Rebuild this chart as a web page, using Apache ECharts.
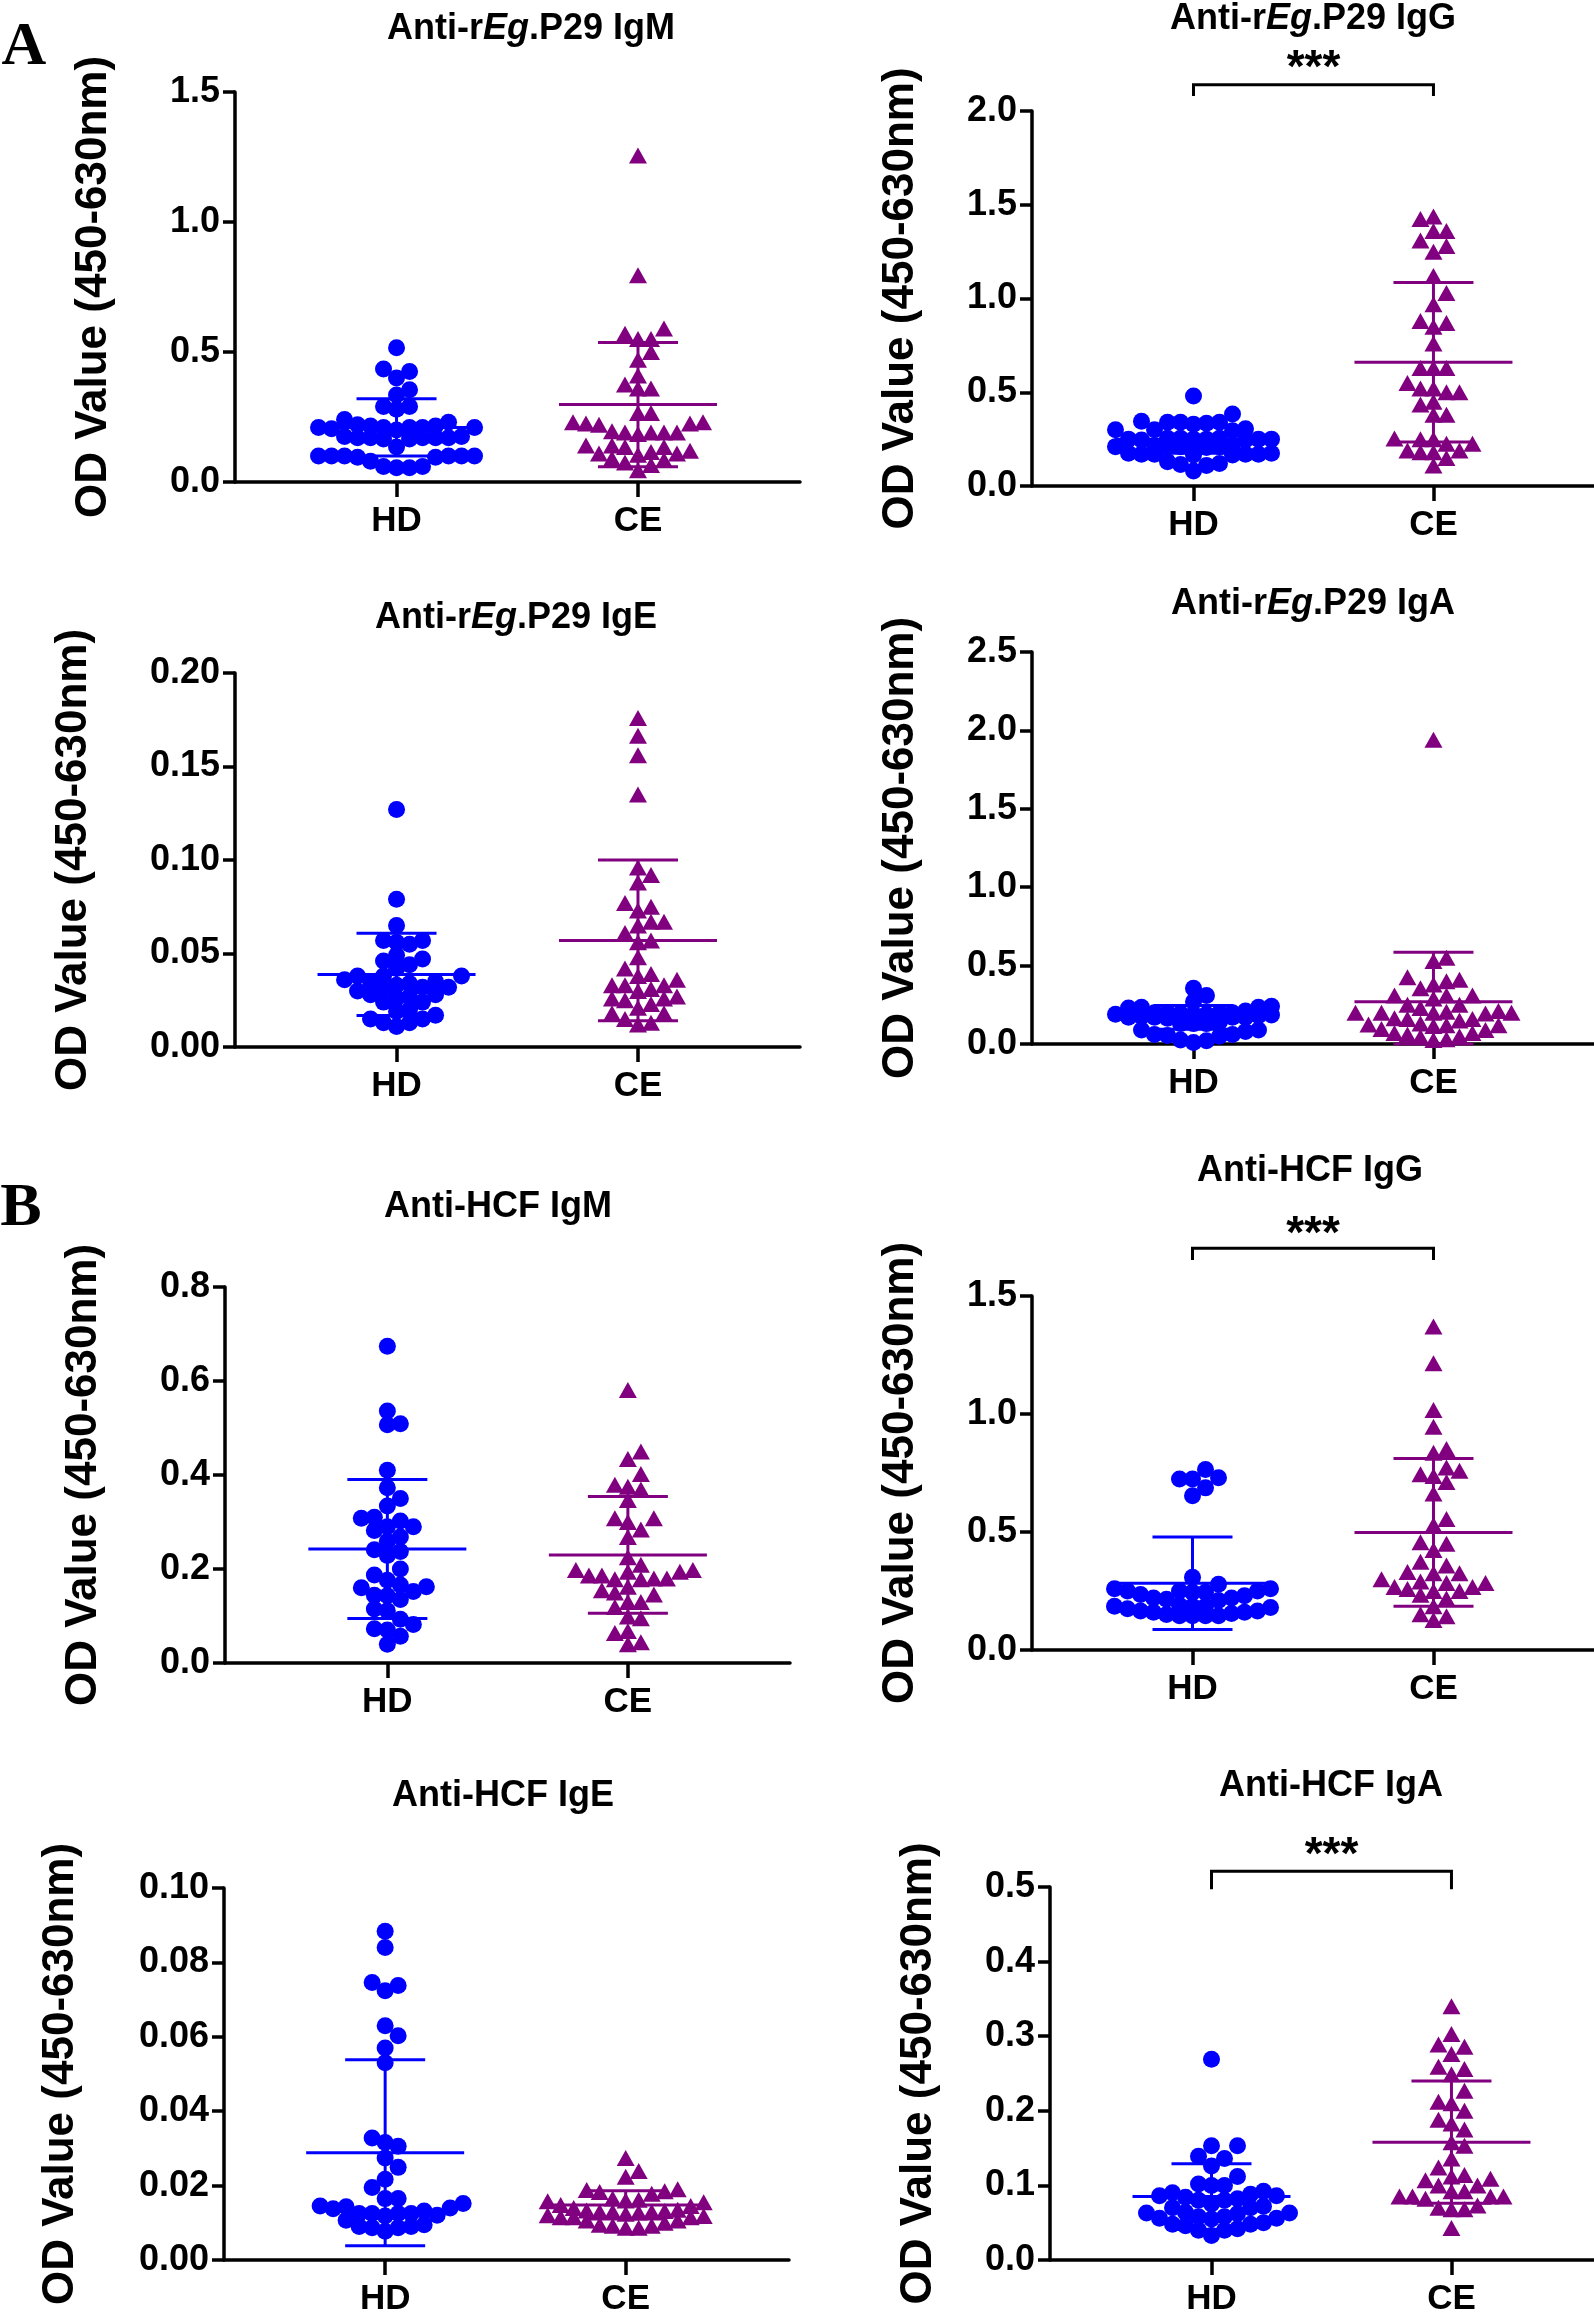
<!DOCTYPE html>
<html>
<head>
<meta charset="utf-8">
<title>OD values</title>
<script src="https://cdn.jsdelivr.net/npm/echarts@6/dist/echarts.min.js"></script>
<style>
html, body { margin: 0; padding: 0; background: #fff; }
#main { width: 1594px; height: 2317px; }
</style>
</head>
<body>
<div id="main"></div>
<script>
// 数据
var groups = ['HD', 'CE'];

var p29_igm_hd = [0.516, 0.435, 0.425, 0.40, 0.355, 0.335, 0.29, 0.29, 0.28, 0.24, 0.23,
    0.22, 0.215, 0.21, 0.21, 0.205, 0.21, 0.2, 0.21, 0.215, 0.21,
    0.175, 0.17, 0.17, 0.165, 0.17, 0.17, 0.175, 0.17, 0.165, 0.135,
    0.1, 0.1, 0.095, 0.1, 0.1, 0.1, 0.095, 0.1, 0.08, 0.06, 0.06, 0.055, 0.055];
var p29_igm_ce = [1.256, 0.795, 0.59, 0.57, 0.55, 0.55, 0.50, 0.47, 0.41, 0.375, 0.36, 0.36, 0.265, 0.265,
    0.23, 0.225, 0.22, 0.225, 0.23, 0.19, 0.195, 0.19, 0.19, 0.19, 0.185, 0.14, 0.135, 0.135, 0.14,
    0.11, 0.115, 0.11, 0.105, 0.12, 0.075, 0.085, 0.09, 0.065, 0.045];
var p29_igm_mean = [0.21, 0.298];
var p29_igm_sd = [0.11, 0.239];

var p29_igg_hd = [0.48, 0.384, 0.34, 0.34, 0.345, 0.34, 0.335, 0.33, 0.30, 0.305, 0.30, 0.295,
    0.255, 0.25, 0.25, 0.245, 0.255, 0.25, 0.25, 0.245, 0.25, 0.255,
    0.21, 0.215, 0.21, 0.205, 0.21, 0.215, 0.21, 0.21,
    0.17, 0.175, 0.17, 0.165, 0.17, 0.175, 0.17, 0.165, 0.115, 0.13, 0.11, 0.12, 0.08];
var p29_igg_ce = [1.437, 1.424, 1.36, 1.36, 1.31, 1.25, 1.28, 1.12, 1.03, 0.97, 0.85, 0.88, 0.87, 0.76,
    0.63, 0.63, 0.63, 0.55, 0.52, 0.50, 0.52, 0.50, 0.45, 0.435, 0.38, 0.38,
    0.254, 0.25, 0.225, 0.25, 0.19, 0.19, 0.18, 0.18, 0.225, 0.15, 0.11];
var p29_igg_mean = [0.25, 0.66];
var p29_igg_sd = [0.075, 0.425];

var p29_ige_hd = [0.127, 0.079, 0.065, 0.057, 0.055, 0.057, 0.056, 0.049, 0.047, 0.046, 0.042, 0.044,
    0.038, 0.038, 0.036, 0.035, 0.038, 0.032, 0.033, 0.034, 0.035, 0.032, 0.031, 0.030,
    0.028, 0.028, 0.027, 0.024, 0.024, 0.026, 0.020, 0.019, 0.017, 0.015, 0.015, 0.013, 0.013, 0.011];
var p29_ige_ce = [0.176, 0.1665, 0.156, 0.135, 0.096, 0.092, 0.088, 0.073, 0.075, 0.077, 0.067, 0.065, 0.067,
    0.061, 0.056, 0.057, 0.048, 0.042, 0.039, 0.030, 0.033, 0.033, 0.036, 0.038, 0.031, 0.033,
    0.026, 0.025, 0.027, 0.026, 0.023, 0.021, 0.018, 0.018, 0.013, 0.015, 0.012];
var p29_ige_mean = [0.0388, 0.057];
var p29_ige_sd = [0.022, 0.043];

var p29_iga_hd = [0.356, 0.31, 0.27, 0.235, 0.24, 0.23, 0.235, 0.2, 0.2, 0.19, 0.21, 0.2, 0.19, 0.2, 0.195,
    0.185, 0.19, 0.17, 0.165, 0.17, 0.17, 0.175, 0.17, 0.13, 0.13, 0.14, 0.13, 0.09, 0.08, 0.09,
    0.06, 0.05, 0.055, 0.06, 0.02, 0.01, 0.025, 0.18];
var p29_iga_ce = [1.94, 0.53, 0.55, 0.41, 0.425, 0.40, 0.38, 0.356, 0.31, 0.29, 0.31, 0.31, 0.23, 0.25, 0.25,
    0.2, 0.21, 0.2, 0.2, 0.2, 0.205, 0.195, 0.16, 0.16, 0.165, 0.15, 0.12, 0.125, 0.13, 0.12, 0.115,
    0.09, 0.095, 0.07, 0.05, 0.045, 0.06, 0.07, 0.03, 0.025];
var p29_iga_mean = [0.17, 0.27];
var p29_iga_sd = [0.076, 0.315];

var hcf_igm_hd = [0.674, 0.536, 0.509, 0.507, 0.41, 0.373, 0.35, 0.334, 0.31, 0.308, 0.302, 0.282, 0.29, 0.29,
    0.268, 0.259, 0.237, 0.241, 0.229, 0.2, 0.187, 0.162, 0.176, 0.166, 0.16, 0.144, 0.152, 0.143,
    0.135, 0.111, 0.115, 0.093, 0.082, 0.07, 0.073, 0.057, 0.04];
var hcf_igm_ce = [0.581, 0.45, 0.434, 0.402, 0.369, 0.379, 0.375, 0.347, 0.308, 0.308, 0.3, 0.284, 0.268,
    0.225, 0.198, 0.198, 0.209, 0.18, 0.18, 0.186, 0.186, 0.194, 0.194, 0.178, 0.178, 0.146, 0.162,
    0.15, 0.155, 0.13, 0.13, 0.119, 0.095, 0.099, 0.068, 0.064, 0.04, 0.044];
var hcf_igm_mean = [0.2425, 0.23];
var hcf_igm_sd = [0.148, 0.124];

var hcf_igg_hd = [0.765, 0.725, 0.73, 0.725, 0.654, 0.687, 0.308, 0.279, 0.25, 0.25, 0.26, 0.26, 0.245, 0.25,
    0.245, 0.235, 0.22, 0.23, 0.215, 0.21, 0.22, 0.18, 0.19, 0.185, 0.185, 0.175, 0.185,
    0.16, 0.165, 0.155, 0.165, 0.16, 0.145, 0.145, 0.145, 0.145, 0.15];
var hcf_igg_ce = [1.371, 1.215, 1.017, 0.946, 0.852, 0.836, 0.76, 0.773, 0.745, 0.712, 0.737, 0.663, 0.555,
    0.53, 0.45, 0.457, 0.424, 0.374, 0.358, 0.325, 0.30, 0.325, 0.33, 0.29, 0.284, 0.267, 0.25, 0.258,
    0.25, 0.267, 0.284, 0.218, 0.234, 0.185, 0.143, 0.152, 0.127];
var hcf_igg_mean = [0.283, 0.498];
var hcf_igg_sd = [0.196, 0.313];

var hcf_ige_hd = [0.0884, 0.084, 0.0746, 0.0738, 0.0724, 0.063, 0.0603, 0.057, 0.053, 0.0328, 0.0306, 0.0316,
    0.0274, 0.0249, 0.0217, 0.0195, 0.0165, 0.0165, 0.014, 0.0143, 0.0152, 0.0138, 0.0145,
    0.0125, 0.0125, 0.0125, 0.0118, 0.0132, 0.0125, 0.012, 0.009, 0.0095, 0.0107, 0.0087, 0.009, 0.0087, 0.0077];
var hcf_ige_ce = [0.0274, 0.0239, 0.0224, 0.019, 0.0185, 0.0188, 0.0183, 0.0178, 0.016, 0.0162, 0.0165, 0.0158,
    0.0148, 0.0155, 0.013, 0.0133, 0.0128, 0.0132, 0.013, 0.0135, 0.013, 0.0115, 0.0118, 0.0115, 0.0115,
    0.0095, 0.0087, 0.0092, 0.0087, 0.0092, 0.01, 0.0106, 0.0106, 0.0145, 0.012, 0.0124, 0.014];
var hcf_ige_mean = [0.0288, 0.0148];
var hcf_ige_sd = [0.025, 0.0038];

var hcf_iga_hd = [0.269, 0.153, 0.153, 0.136, 0.139, 0.126, 0.112, 0.1, 0.102, 0.1, 0.09, 0.088, 0.092, 0.086,
    0.086, 0.08, 0.082, 0.08, 0.084, 0.072, 0.07, 0.075, 0.07, 0.063, 0.062, 0.064, 0.063, 0.056,
    0.058, 0.058, 0.055, 0.056, 0.048, 0.048, 0.05, 0.046, 0.04, 0.042, 0.04, 0.033];
var hcf_iga_ce = [0.34, 0.303, 0.289, 0.286, 0.276, 0.259, 0.256, 0.249, 0.227, 0.21, 0.212, 0.2, 0.183, 0.188,
    0.175, 0.158, 0.153, 0.136, 0.124, 0.112, 0.114, 0.107, 0.109, 0.1, 0.1, 0.092, 0.092, 0.085,
    0.085, 0.082, 0.085, 0.085, 0.073, 0.068, 0.068, 0.07, 0.043];
var hcf_iga_mean = [0.085, 0.158];
var hcf_iga_sd = [0.044, 0.082];

// y axis ticks: max / interval / decimals
var yMax = [1.5, 2.0, 0.20, 2.5, 0.8, 1.5, 0.10, 0.5];
var yStep = [0.5, 0.5, 0.05, 0.5, 0.2, 0.5, 0.02, 0.1];
var yDec = [1, 1, 2, 1, 1, 1, 2, 1];

// significance: [bracket top, bracket end, star centre] in data units, null = none
var sig = [null, [2.14, 2.08, 2.272], null, null, null, [1.702, 1.653, 1.797], null, [0.521, 0.497, 0.553]];

var titles = [
    '{n|Anti-r}{i|Eg}{n|.P29 IgM}', '{n|Anti-r}{i|Eg}{n|.P29 IgG}',
    '{n|Anti-r}{i|Eg}{n|.P29 IgE}', '{n|Anti-r}{i|Eg}{n|.P29 IgA}',
    '{n|Anti-HCF IgM}', '{n|Anti-HCF IgG}', '{n|Anti-HCF IgE}', '{n|Anti-HCF IgA}'
];

var hdData = [p29_igm_hd, p29_igg_hd, p29_ige_hd, p29_iga_hd, hcf_igm_hd, hcf_igg_hd, hcf_ige_hd, hcf_iga_hd];
var ceData = [p29_igm_ce, p29_igg_ce, p29_ige_ce, p29_iga_ce, hcf_igm_ce, hcf_igg_ce, hcf_ige_ce, hcf_iga_ce];
var means = [p29_igm_mean, p29_igg_mean, p29_ige_mean, p29_iga_mean, hcf_igm_mean, hcf_igg_mean, hcf_ige_mean, hcf_iga_mean];
var sds = [p29_igm_sd, p29_igg_sd, p29_ige_sd, p29_iga_sd, hcf_igm_sd, hcf_igg_sd, hcf_ige_sd, hcf_iga_sd];

// layout
var grids = [
    {left: 235, top: 92, width: 565, height: 390},
    {left: 1032, top: 111, width: 562, height: 375},
    {left: 235, top: 673, width: 565, height: 374},
    {left: 1032, top: 652, width: 562, height: 392},
    {left: 225, top: 1287, width: 565, height: 376},
    {left: 1032, top: 1296, width: 562, height: 354},
    {left: 224, top: 1888, width: 565, height: 374},
    {left: 1050, top: 1887, width: 544, height: 375}
];
var xMin = [0.331, 0.327, 0.331, 0.327, 0.325, 0.334, 0.330, 0.327];
var xMax = [2.671, 2.669, 2.671, 2.669, 2.674, 2.666, 2.679, 2.594];
var nameGap = [119, 109, 139, 109, 119, 109, 141, 109];
var titlePos = [[531, 29], [1313, 19], [516, 618], [1313, 604], [498, 1207], [1310, 1171], [503, 1796], [1331, 1786]];

var BLUE = '#0000ff', PURPLE = '#800080';
var FONT = '"Liberation Sans", Arial, Helvetica, sans-serif';

// simple beeswarm, Prism style: spread points sideways, but keep the column narrow
// (when the column is full, points are allowed to overlap)
function swarm(values, center, pxX, pxY) {
    var step = 13, dist = 13, maxK = 12;
    var order = values.map(function (v, i) { return i; }).sort(function (a, b) { return values[a] - values[b]; });
    var placed = [], out = [];
    order.forEach(function (i) {
        var py = values[i] * pxY;
        var best = 0, bestD = -1;
        for (var k = 0; k <= maxK; k++) {
            var off = (k % 2 === 1 ? 1 : -1) * Math.ceil(k / 2) * step;
            var dmin = Infinity;
            placed.forEach(function (p) {
                var dx = p[0] - off, dy = p[1] - py;
                dmin = Math.min(dmin, Math.sqrt(dx * dx + dy * dy));
            });
            if (dmin >= dist) { best = off; bestD = dmin; break; }
            if (dmin > bestD) { bestD = dmin; best = off; }
        }
        placed.push([best, py]);
        out.push([center + best / pxX, values[i]]);
    });
    return out;
}

function errRender(params, api) {
    var x = api.value(0), m = api.value(1), s = api.value(2);
    var c = api.coord([x, m]);
    var t = api.coord([x, m + s]);
    var b = api.coord([x, Math.max(0, m - s)]);
    var st = {stroke: params.dataIndex === 0 ? BLUE : PURPLE, lineWidth: 3};
    return {
        type: 'group',
        children: [
            {type: 'line', shape: {x1: c[0] - 79, y1: c[1], x2: c[0] + 79, y2: c[1]}, style: st},
            {type: 'line', shape: {x1: t[0], y1: t[1], x2: b[0], y2: b[1]}, style: st},
            {type: 'line', shape: {x1: t[0] - 40, y1: t[1], x2: t[0] + 40, y2: t[1]}, style: st},
            {type: 'line', shape: {x1: b[0] - 40, y1: b[1], x2: b[0] + 40, y2: b[1]}, style: st}
        ]
    };
}

function sigRender(params, api) {
    var top = api.value(1), end = api.value(2), star = api.value(3);
    var a1 = api.coord([1, end]), a2 = api.coord([1, top]);
    var b2 = api.coord([2, top]), b1 = api.coord([2, end]);
    var s = api.coord([1.5, star]);
    return {
        type: 'group',
        children: [
            {type: 'polyline', shape: {points: [a1, a2, b2, b1]}, style: {stroke: '#000', lineWidth: 3, fill: null}},
            {type: 'text', x: s[0], y: s[1] + 9, style: {text: '***', fill: '#000', align: 'center', verticalAlign: 'middle',
                fontSize: 46, fontWeight: 'bold', fontFamily: FONT}}
        ]
    };
}

var option = {
    backgroundColor: '#fff',
    animation: false,
    grid: [], xAxis: [], yAxis: [], series: [], graphic: []
};

for (var i = 0; i < 8; i++) {
    var g = grids[i];
    option.grid.push({left: g.left, top: g.top, width: g.width, height: g.height, containLabel: false});
    option.xAxis.push({
        type: 'value', gridIndex: i, min: xMin[i], max: xMax[i],
        axisLine: {show: true, lineStyle: {color: '#000', width: 3.5}},
        axisTick: {show: true, customValues: [1, 2], length: 15, lineStyle: {color: '#000', width: 3.5}},
        axisLabel: {show: true, customValues: [1, 2], margin: 22, color: '#000', fontSize: 35, fontWeight: 'bold', fontFamily: FONT,
            formatter: function (v) { return groups[Math.round(v) - 1]; }},
        splitLine: {show: false}
    });
    (function (dec) {
        option.yAxis.push({
            type: 'value', gridIndex: i, min: 0, max: yMax[i], interval: yStep[i],
            name: 'OD Value (450-630nm)', nameLocation: 'middle', nameRotate: 90, nameGap: nameGap[i],
            nameTextStyle: {color: '#000', fontSize: 44, fontWeight: 'bold', fontFamily: FONT},
            axisLine: {show: true, lineStyle: {color: '#000', width: 3.5}},
            axisTick: {show: true, length: 12, lineStyle: {color: '#000', width: 3.5}},
            axisLabel: {margin: 15, color: '#000', fontSize: 36, fontWeight: 'bold', fontFamily: FONT,
                formatter: function (v) { return v.toFixed(dec); }},
            splitLine: {show: false}
        });
    })(yDec[i]);

    var pxX = g.width / (xMax[i] - xMin[i]);
    var pxY = g.height / yMax[i];

    option.series.push({
        type: 'scatter', xAxisIndex: i, yAxisIndex: i, z: 2,
        symbol: 'circle', symbolSize: 17, itemStyle: {color: BLUE, opacity: 1},
        data: swarm(hdData[i], 1, pxX, pxY)
    });
    option.series.push({
        type: 'scatter', xAxisIndex: i, yAxisIndex: i, z: 2,
        symbol: 'triangle', symbolSize: [18, 16], itemStyle: {color: PURPLE, opacity: 1},
        data: swarm(ceData[i], 2, pxX, pxY)
    });
    option.series.push({
        type: 'custom', xAxisIndex: i, yAxisIndex: i, z: 3, clip: false,
        renderItem: errRender,
        data: [[1, means[i][0], sds[i][0]], [2, means[i][1], sds[i][1]]]
    });
    if (sig[i]) {
        option.series.push({
            type: 'custom', xAxisIndex: i, yAxisIndex: i, z: 3, clip: false,
            renderItem: sigRender,
            data: [[1.5, sig[i][0], sig[i][1], sig[i][2]]]
        });
    }

    option.graphic.push({
        type: 'text', x: titlePos[i][0], y: titlePos[i][1],
        style: {
            text: titles[i], align: 'center', verticalAlign: 'middle', fill: '#000',
            rich: {
                n: {fontSize: 36, fontWeight: 'bold', fontFamily: FONT, fill: '#000'},
                i: {fontSize: 36, fontWeight: 'bold', fontStyle: 'italic', fontFamily: FONT, fill: '#000'}
            }
        }
    });
}

// panel letters
option.graphic.push({type: 'text', x: 24, y: 48, style: {text: 'A', align: 'center', verticalAlign: 'middle', fill: '#000',
    fontSize: 62, fontWeight: 'bold', fontFamily: '"Liberation Serif", "Times New Roman", serif'}});
option.graphic.push({type: 'text', x: 21, y: 1209, style: {text: 'B', align: 'center', verticalAlign: 'middle', fill: '#000',
    fontSize: 62, fontWeight: 'bold', fontFamily: '"Liberation Serif", "Times New Roman", serif'}});

var myChart = echarts.init(document.getElementById('main'));
myChart.setOption(option);
</script>
</body>
</html>
